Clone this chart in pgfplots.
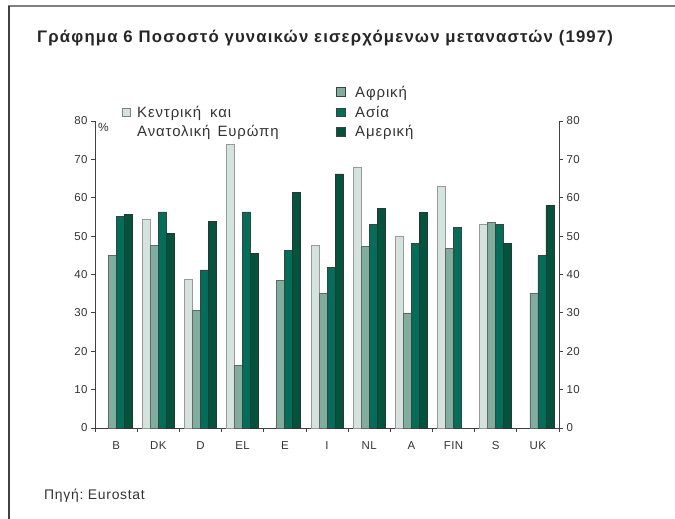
\documentclass[border=0pt]{standalone}
\usepackage{fontspec}
\setmainfont{Liberation Sans}
\usepackage{pgfplots}
\pgfplotsset{compat=1.18}
\definecolor{cee}{HTML}{D5E3DE}
\definecolor{afr}{HTML}{7FAE9F}
\definecolor{asia}{HTML}{006F5A}
\definecolor{amer}{HTML}{00543B}
\definecolor{axisgray}{HTML}{404040}
\definecolor{txt}{HTML}{333333}
\begin{document}
\begin{tikzpicture}
\path[use as bounding box] (0bp,0bp) rectangle (675bp,-519bp);
\draw[gray, line width=1.5bp] (8bp,-6bp) -- (675bp,-6bp);
\draw[axisgray, line width=1.2bp] (9bp,-6bp) -- (9bp,-519bp);
\node[anchor=base west, font=\bfseries\fontsize{16.8}{19}\selectfont\addfontfeature{LetterSpace=7}, inner sep=0, text=black!85] at (37bp,-42.7bp) {Γράφημα 6 Ποσοστό γυναικών εισερχόμενων μεταναστών (1997)};

\begin{axis}[at={(95bp,-428bp)}, anchor=south west, scale only axis,
  width=464bp, height=307bp,
  ymin=0, ymax=80, xmin=-0.5, xmax=10.5,
  ybar=0pt, bar width=8bp,
  axis x line*=bottom, axis y line*=left,
  axis line style={axisgray, line width=0.8bp},
  xtick={0,...,10}, xticklabels={B,DK,D,EL,E,I,NL,A,FIN,S,UK},
  major x tick style={draw=none},
  minor xtick={-0.5,0.5,...,10.5},
  minor x tick style={axisgray, line width=0.8bp},
  ytick={0,10,...,80},
  y tick style={axisgray, line width=0.8bp},
  tick align=outside, major tick length=4bp, minor tick length=4bp,
  /pgf/number format/assume math mode=true,
  ticklabel style={font=\fontsize{11.5}{13}\selectfont\addfontfeature{LetterSpace=4}, text=txt},
  xticklabel style={yshift=-6bp},
  clip=false,
]
\addplot[fill=cee, draw=gray!80, line width=0.7bp] coordinates {(1,54.5) (2,38.7) (3,73.8) (5,47.5) (6,68.0) (7,49.9) (8,62.9) (9,53.0)};
\addplot[fill=afr, draw=axisgray!80, line width=0.7bp] coordinates {(0,45.0) (1,47.5) (2,30.6) (3,16.2) (4,38.4) (5,35.0) (6,47.4) (7,30.0) (8,46.8) (9,53.6) (10,35.0)};
\addplot[fill=asia, draw=axisgray, line width=0.7bp] coordinates {(0,55.1) (1,56.3) (2,41.2) (3,56.3) (4,46.2) (5,41.8) (6,53.0) (7,48.0) (8,52.3) (9,53.0) (10,44.9)};
\addplot[fill=amer, draw=black!80, line width=0.7bp] coordinates {(0,55.7) (1,50.7) (2,53.8) (3,45.6) (4,61.4) (5,66.2) (6,57.3) (7,56.1) (9,48.0) (10,58.0)};
\end{axis}

\begin{axis}[at={(95bp,-428bp)}, anchor=south west, scale only axis,
  width=464bp, height=307bp,
  ymin=0, ymax=80, xmin=-0.5, xmax=10.5,
  axis y line*=right, hide x axis,
  axis line style={axisgray, line width=0.8bp},
  ytick={0,10,...,80},
  y tick style={axisgray, line width=0.8bp},
  tick align=outside, major tick length=4bp,
  /pgf/number format/assume math mode=true,
  ticklabel style={font=\fontsize{11.5}{13}\selectfont\addfontfeature{LetterSpace=4}, text=txt},
]
\addplot[draw=none] coordinates {(0,0)};
\end{axis}

\node[anchor=base west, inner sep=0, font=\fontsize{12}{13}\selectfont, text=txt] at (98bp,-131.5bp) {\%};

\begin{scope}[font=\fontsize{15}{18}\selectfont\addfontfeature{LetterSpace=6}]
\draw[fill=cee, draw=gray, line width=0.7bp] (122.7bp,-108.3bp) rectangle (130.7bp,-116.7bp);
\node[anchor=base west, inner sep=0, text=txt] at (137bp,-117.7bp) {Κεντρική\hspace{4bp} και};
\node[anchor=base west, inner sep=0, text=txt] at (137bp,-136.7bp) {Ανατολική\hspace{2bp} Ευρώπη};
\draw[fill=afr, draw=axisgray, line width=0.7bp] (336.5bp,-87.5bp) rectangle (345bp,-96bp);
\node[anchor=base west, inner sep=0, text=txt] at (355bp,-97.7bp) {Αφρική};
\draw[fill=asia, draw=axisgray, line width=0.7bp] (336.5bp,-108.3bp) rectangle (345bp,-116.7bp);
\node[anchor=base west, inner sep=0, text=txt] at (355bp,-117.7bp) {Ασία};
\draw[fill=amer, draw=axisgray, line width=0.7bp] (336.5bp,-127.7bp) rectangle (345bp,-136bp);
\node[anchor=base west, inner sep=0, text=txt] at (355bp,-136.7bp) {Αμερική};
\end{scope}

\node[anchor=base west, inner sep=0, font=\fontsize{14}{16}\selectfont\addfontfeature{LetterSpace=5}, text=txt] at (44bp,-499bp) {Πηγή:\ Eurostat};
\end{tikzpicture}
\end{document}
